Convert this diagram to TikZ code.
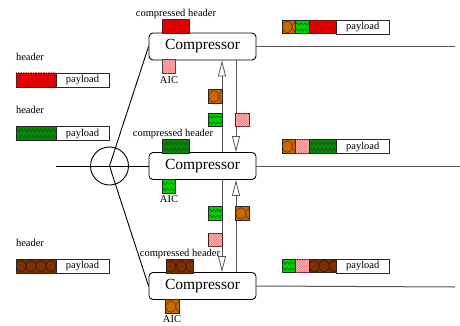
\documentclass[tikz,border=0pt]{standalone}
\usepackage{fontspec}
\setmainfont{Liberation Serif}
\usetikzlibrary{patterns,arrows.meta,decorations.pathmorphing}
\pgfdeclarepatternformonly{densehatch}{\pgfqpoint{-0.5pt}{-0.5pt}}{\pgfqpoint{3pt}{3pt}}{\pgfqpoint{2.5pt}{2.5pt}}{%
  \pgfsetlinewidth{0.25pt}%
  \pgfpathmoveto{\pgfqpoint{0pt}{0pt}}%
  \pgfpathlineto{\pgfqpoint{2.5pt}{2.5pt}}%
  \pgfpathmoveto{\pgfqpoint{0pt}{2.5pt}}%
  \pgfpathlineto{\pgfqpoint{2.5pt}{0pt}}%
  \pgfusepath{stroke}}
\definecolor{myorange}{HTML}{CC6600}
\definecolor{mybrown}{HTML}{7F2E00}
\definecolor{mygreen}{HTML}{00D000}
\definecolor{mydkgreen}{HTML}{008A00}
\definecolor{mypink}{HTML}{F4C4C4}
\definecolor{linegray}{HTML}{555555}
\tikzset{
  small/.style={font=\fontsize{10.5}{12}\selectfont, inner sep=0pt},
  comp/.style={draw, line width=0.9pt, rounded corners=4pt, minimum width=107pt, minimum height=27pt, inner sep=0pt, font=\fontsize{15.5}{18}\selectfont},
  chip/.style={draw=black!85, line width=0.6pt, minimum width=13.5pt, minimum height=13.5pt, inner sep=0pt, outer sep=0pt},
  wide/.style={minimum width=27pt},
  lhdr/.style={minimum width=40pt, minimum height=14pt},
  payl/.style={draw=black!85, line width=0.6pt, fill=white, minimum width=53pt, minimum height=14pt, inner sep=0pt, outer sep=0pt, font=\fontsize{10.5}{12}\selectfont},
  redp/.style={fill=red, postaction={pattern=densehatch, pattern color=red!70!black}},
  pinkp/.style={fill=mypink, postaction={pattern=densehatch, pattern color=red!65!white}},
  zig/.style={path picture={
    \foreach \dy in {-3pt,3pt}
      \draw[#1, line width=0.4pt, decorate, decoration={zigzag, segment length=4pt, amplitude=1.2pt}]
        ([yshift=\dy]path picture bounding box.west) -- ([yshift=\dy, xshift=2pt]path picture bounding box.east);
  }},
  circ/.style={path picture={
    \foreach \i in {0,...,4}
      \draw[#1, line width=0.4pt] ([xshift=5pt+\i*10pt]path picture bounding box.west) ellipse [x radius=4.8pt, y radius=5.8pt];
  }},
  greenp/.style={fill=mygreen, zig=green!30!black},
  dkgreenp/.style={fill=mydkgreen, zig=black!80},
  orangep/.style={fill=myorange, circ=black!60!myorange},
  brownp/.style={fill=mybrown, circ=black!90},
  link/.style={line width=0.9pt},
  outl/.style={line width=1pt, draw=linegray},
  flow/.style={line width=0.8pt, draw=linegray, -{Triangle[open, length=16pt, width=8pt, fill=white]}},
}
\begin{document}
\begin{tikzpicture}[x=1pt, y=-1pt]
\useasboundingbox (0,0) rectangle (460,326);
% compressors
\node[comp] (c1) at (202.5,46.5) {Compressor};
\node[comp] (c2) at (202.5,166) {Compressor};
\node[comp] (c3) at (202.5,286) {Compressor};
% switch circle
\node[draw, circle, line width=0.9pt, minimum size=38pt, inner sep=0pt] (sw) at (109.5,166) {};
\coordinate (inl) at (56,166);
\draw[link] (inl) -- (c2.west);
\draw[link] (sw.center) -- (c1.west);
\draw[link] (sw.center) -- (c3.west);
% outgoing lines
\coordinate (o1) at (455,46.5);
\coordinate (o2) at (460,166);
\coordinate (o3) at (455,287);
\draw[outl] (c1.east) -- (o1);
\draw[outl] (c2.east) -- (o2);
\draw[outl] (c3.east) -- (o3);
% vertical flows
\draw[flow] (c2.north -| 222,0) -- (c1.south -| 222,0);
\draw[flow] (c1.south -| 236,0) -- (c2.north -| 236,0);
\draw[flow] (c2.south -| 222,0) -- (c3.north -| 222,0);
\draw[flow] (c3.north -| 236,0) -- (c2.south -| 236,0);
% compressor 1 chips
\node[chip, wide, redp] (h1) at (175.5,26.5) {};
\node[small, anchor=south] (h1l) at (176,19) {compressed header};
\node[chip, pinkp] (a1) at (169,66.5) {};
\node[small] (a1l) at (169,80) {AIC};
% between 1 and 2
\node[chip, orangep] (m1) at (215.5,96.5) {};
\node[chip, greenp] (m2) at (215.5,120) {};
\node[chip, pinkp] (m3) at (242.5,120) {};
% compressor 2 chips
\node[chip, wide, dkgreenp] (h2) at (175.5,146.5) {};
\node[small, anchor=south] (h2l) at (173,138.5) {compressed header};
\node[chip, greenp] (a2) at (169,186.5) {};
\node[small] (a2l) at (169,199.5) {AIC};
% between 2 and 3
\node[chip, greenp] (m4) at (215.5,213.5) {};
\node[chip, orangep] (m5) at (242.5,213.5) {};
\node[chip, pinkp] (m6) at (215.5,240) {};
% compressor 3 chips
\node[chip, wide, brownp] (h3) at (179.5,266.5) {};
\node[small, anchor=south] (h3l) at (180,259) {compressed header};
\node[chip, orangep] (a3) at (172.5,306.5) {};
\node[small] (a3l) at (172,319.5) {AIC};
% left packets
\node[small] (lh1) at (30,57) {header};
\node[chip, lhdr, redp] (lp1h) at (36,80) {};
\node[payl, anchor=west] (lp1p) at (lp1h.east) {payload};
\node[small] (lh2) at (30,110) {header};
\node[chip, lhdr, dkgreenp] (lp2h) at (36,133.5) {};
\node[payl, anchor=west] (lp2p) at (lp2h.east) {payload};
\node[small] (lh3) at (30,243) {header};
\node[chip, lhdr, brownp] (lp3h) at (36,266) {};
\node[payl, anchor=west] (lp3p) at (lp3h.east) {payload};
% right packets
\node[chip, orangep] (r1a) at (289,27) {};
\node[chip, greenp, anchor=west] (r1b) at (r1a.east) {};
\node[chip, wide, redp, anchor=west] (r1c) at (r1b.east) {};
\node[payl, anchor=west] (r1p) at (r1c.east) {payload};
\node[chip, orangep] (r2a) at (289,146.5) {};
\node[chip, pinkp, anchor=west] (r2b) at (r2a.east) {};
\node[chip, wide, dkgreenp, anchor=west] (r2c) at (r2b.east) {};
\node[payl, anchor=west] (r2p) at (r2c.east) {payload};
\node[chip, greenp] (r3a) at (289,266) {};
\node[chip, pinkp, anchor=west] (r3b) at (r3a.east) {};
\node[chip, wide, brownp, anchor=west] (r3c) at (r3b.east) {};
\node[payl, anchor=west] (r3p) at (r3c.east) {payload};
\end{tikzpicture}
\end{document}
